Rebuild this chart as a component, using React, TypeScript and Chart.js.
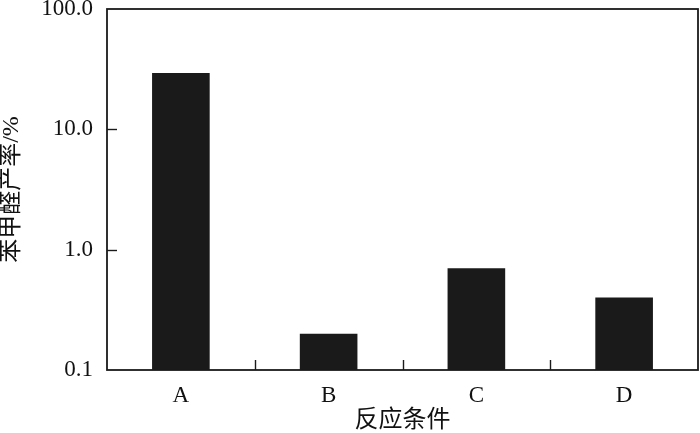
import React, { useEffect, useRef } from "react";
import { Chart, registerables } from "chart.js";

Chart.register(...registerables);

const categories = ["A", "B", "C", "D"];
const yields = [29.4, 0.2, 0.7, 0.4];
const yTicks = [0.1, 1, 10, 100];
const yTickLabels = ["0.1", "1.0", "10.0", "100.0"];
const xTitle = "反应条件";
const yTitle = "苯甲醛产率/%";

const SERIF = "'Liberation Serif', 'Times New Roman', 'Noto Sans CJK SC', serif";
const CJK = "'Liberation Serif', 'Noto Sans CJK SC', serif";

const framePlugin = {
  id: "frame",
  afterDatasetsDraw(chart: any) {
    const { ctx, chartArea, scales } = chart;
    const { left, right, top, bottom } = chartArea;
    ctx.save();
    ctx.strokeStyle = "#1a1a1a";
    ctx.lineWidth = 1.8;
    ctx.strokeRect(left, top, right - left, bottom - top);
    ctx.lineWidth = 1.4;
    // y inner ticks
    [1, 10].forEach((v) => {
      const y = Math.round(scales.y.getPixelForValue(v)) + 0.5;
      ctx.beginPath();
      ctx.moveTo(left, y);
      ctx.lineTo(left + 10, y);
      ctx.stroke();
    });
    // x inner ticks between categories
    for (let i = 1; i < categories.length; i++) {
      const x =
        Math.round((scales.x.getPixelForValue(i - 1) + scales.x.getPixelForValue(i)) / 2) + 0.5;
      ctx.beginPath();
      ctx.moveTo(x, bottom);
      ctx.lineTo(x, bottom - 10);
      ctx.stroke();
    }
    ctx.restore();
  },
};

export default function App() {
  const ref = useRef<HTMLCanvasElement>(null);
  useEffect(() => {
    const chart = new Chart(ref.current!, {
      type: "bar",
      data: {
        labels: categories,
        datasets: [
          {
            data: yields,
            backgroundColor: "#1a1a1a",
            borderWidth: 0,
            barPercentage: 0.39,
            categoryPercentage: 1,
          },
        ],
      },
      options: {
        animation: false,
        responsive: false,
        maintainAspectRatio: false,
        layout: { padding: { left: 0, right: 2, top: 9, bottom: 0 } },
        plugins: { legend: { display: false }, tooltip: { enabled: false } },
        scales: {
          x: {
            grid: { display: false, drawTicks: false },
            border: { display: false },
            ticks: { color: "#111", font: { family: SERIF, size: 23 }, padding: 12 },
            title: {
              display: true,
              text: xTitle,
              color: "#111",
              font: { family: CJK, size: 24, lineHeight: 1 },
              padding: { top: 0, bottom: 0 },
            },
            afterFit: (s: any) => {
              s.height = 63;
              s.paddingLeft = 0;
              s.paddingRight = 0;
            },
          },
          y: {
            type: "logarithmic",
            min: 0.1,
            max: 100,
            grid: { display: false, drawTicks: false },
            border: { display: false },
            afterBuildTicks: (s: any) => {
              s.ticks = yTicks.map((v) => ({ value: v }));
            },
            ticks: {
              color: "#111",
              font: { family: SERIF, size: 23 },
              padding: 14,
              autoSkip: false,
              callback: (v: any) => {
                const i = yTicks.indexOf(Number(v));
                return i >= 0 ? yTickLabels[i] : "";
              },
            },
            title: {
              display: true,
              text: yTitle,
              color: "#111",
              font: { family: CJK, size: 24, lineHeight: 1 },
              padding: { top: 0, bottom: 0 },
            },
            afterFit: (s: any) => {
              s.width = 107;
              s.paddingTop = 0;
              s.paddingBottom = 0;
            },
          },
        },
      },
      plugins: [framePlugin],
    });
    return () => chart.destroy();
  }, []);
  return (
    <div style={{ position: "fixed", left: 0, top: 0, width: 700, height: 433, background: "#fff" }}>
      <canvas ref={ref} width={700} height={433} style={{ width: 700, height: 433 }} />
    </div>
  );
}
